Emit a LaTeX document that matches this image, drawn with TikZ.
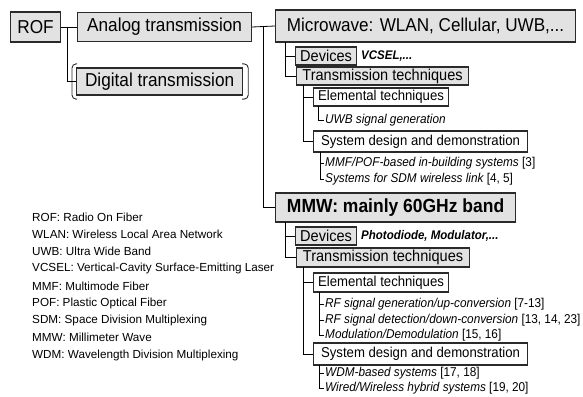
\documentclass[tikz,border=0pt]{standalone}
\usepackage{fontspec}
\setmainfont{Liberation Sans}
\newfontfamily\narrowsf{Liberation Sans}[FakeStretch=0.92]
\usetikzlibrary{positioning,calc}
\definecolor{boxline}{HTML}{2A2A2A}
\definecolor{boxgray}{HTML}{E2E2E2}
\newcommand{\fsz}[1]{\fontsize{#1}{#1}\selectfont}
\tikzset{
  bigbox/.style={draw=boxline,fill=boxgray,line width=1.2pt,anchor=west,
                 inner sep=0pt,font=\narrowsf\fsz{18.7}},
  midbox/.style={draw=boxline,fill=boxgray,line width=1.1pt,anchor=west,
                 inner sep=0pt,minimum height=18pt,font=\narrowsf\fsz{15.8}},
  subbox/.style={draw=boxline,fill=white,line width=1.1pt,anchor=west,
                 inner sep=0pt,font=\narrowsf\fsz{14.3}},
  leaf/.style={anchor=west,inner sep=1pt,font=\narrowsf\fsz{12.8}\itshape},
  keytext/.style={anchor=west,inner sep=0pt,font=\fsz{11.7}},
  link/.style={line width=0.8pt,draw=black},
  bracket/.style={line width=0.9pt,draw=boxline,rounded corners=4pt}
}
\begin{document}
\begin{tikzpicture}[x=1pt,y=-1pt]
  \useasboundingbox (0,0) rectangle (583,396);
  % top level
  \node[bigbox,minimum width=50pt,minimum height=30pt] (rof) at (10,27) {ROF};
  \node[bigbox,minimum width=174pt,minimum height=29pt] (analog) at (77,27) {Analog transmission};
  \node[bigbox,minimum width=166pt,minimum height=27pt] (digital) at (76,81.5) {Digital transmission};
  \draw[bracket] ($(digital.north west)+(1,-3.5)$) -- ($(digital.north west)+(-4,-3.5)$)
    -- ($(digital.south west)+(-4,3.5)$) -- ($(digital.south west)+(1,3.5)$);
  \draw[bracket] ($(digital.north east)+(-1,-3.5)$) -- ($(digital.north east)+(5,-3.5)$)
    -- ($(digital.south east)+(5,3.5)$) -- ($(digital.south east)+(-1,3.5)$);
  \coordinate (j1) at (67,27);
  \draw[link] (rof.east) -- (analog.west);
  \draw[link] (j1) |- (digital.west);

  % microwave branch
  \node[bigbox,minimum width=300pt,minimum height=32pt,font=\narrowsf\fsz{18.6}] (micro) at (275,26) {Microwave: WLAN, Cellular, UWB,...};
  \node[bigbox,minimum width=240pt,minimum height=29pt,font=\narrowsf\fsz{19}\bfseries] (mmw) at (275,207.5) {MMW: mainly 60GHz band};
  \coordinate (j2) at (263,27);
  \draw[link] (analog.east) -- (micro.west);
  \draw[link] (j2) |- (mmw.west);

  \node[midbox,minimum width=61pt] (dev1) at (295,56) {Devices};
  \node[leaf,font=\narrowsf\fsz{12.5}\bfseries\itshape] (vcsel) at (360,56) {VCSEL,...};
  \node[midbox,minimum width=172pt] (tech1) at (296,76) {Transmission techniques};
  \node[subbox,minimum width=135pt,minimum height=18pt] (elem1) at (313,97) {Elemental techniques};
  \node[leaf] (uwbgen) at (324,120) {UWB signal generation};
  \node[subbox,minimum width=214pt,minimum height=21pt] (sys1) at (313,141.5) {System design and demonstration};
  \node[leaf] (mmfpof) at (324,163) {MMF/POF-based in-building systems \upshape[3]};
  \node[leaf] (sdmlink) at (324,179) {Systems for SDM wireless link \upshape[4, 5]};

  \coordinate (m1) at (285,42);
  \draw[link] (m1) |- (tech1.west);
  \draw[link] (m1 |- dev1.west) -- (dev1.west);
  \coordinate (t1) at (303,85);
  \draw[link] (t1) |- (sys1.west);
  \draw[link] (t1 |- elem1.west) -- (elem1.west);
  \coordinate (e1) at (318,106);
  \draw[link] (e1) |- (uwbgen.west);
  \coordinate (s1) at (320,152);
  \draw[link] (s1) |- (sdmlink.west);
  \draw[link] (s1 |- mmfpof.west) -- (mmfpof.west);

  % millimetre wave branch
  \node[midbox,minimum width=61pt] (dev2) at (295,236) {Devices};
  \node[leaf,font=\narrowsf\fsz{12.5}\bfseries\itshape] (pdmod) at (360,236) {Photodiode, Modulator,...};
  \node[midbox,minimum width=173pt,minimum height=19pt] (tech2) at (296,257.5) {Transmission techniques};
  \node[subbox,minimum width=135pt,minimum height=19pt] (elem2) at (313,282.5) {Elemental techniques};
  \node[leaf] (rfgen) at (324,304) {RF signal generation/up-conversion \upshape[7-13]};
  \node[leaf] (rfdet) at (324,320) {RF signal detection/down-conversion \upshape[13, 14, 23]};
  \node[leaf] (moddem) at (324,335.5) {Modulation/Demodulation \upshape[15, 16]};
  \node[subbox,minimum width=214pt,minimum height=22pt] (sys2) at (313,354) {System design and demonstration};
  \node[leaf] (wdmsys) at (324,373) {WDM-based systems \upshape[17, 18]};
  \node[leaf] (hybrid) at (324,388.5) {Wired/Wireless hybrid systems \upshape[19, 20]};

  \coordinate (m2) at (285,222);
  \draw[link] (m2) |- (tech2.west);
  \draw[link] (m2 |- dev2.west) -- (dev2.west);
  \coordinate (t2) at (303,267);
  \draw[link] (t2) |- (sys2.west);
  \draw[link] (t2 |- elem2.west) -- (elem2.west);
  \coordinate (e2) at (319,292);
  \draw[link] (e2) |- (moddem.west);
  \draw[link] (e2 |- rfgen.west) -- (rfgen.west);
  \draw[link] (e2 |- rfdet.west) -- (rfdet.west);
  \coordinate (s2) at (319,365);
  \draw[link] (s2) |- (hybrid.west);
  \draw[link] (s2 |- wdmsys.west) -- (wdmsys.west);

  % abbreviations
  \foreach \txt [count=\i] in {ROF: Radio On Fiber, WLAN: Wireless Local Area Network,
      UWB: Ultra Wide Band, VCSEL: Vertical-Cavity Surface-Emitting Laser,
      MMF: Multimode Fiber, POF: Plastic Optical Fiber,
      SDM: Space Division Multiplexing, MMW: Millimeter Wave,
      WDM: Wavelength Division Multiplexing}
    \node[keytext] (key\i) at (32,{217+17.25*(\i-1)}) {\txt};
\end{tikzpicture}
\end{document}
